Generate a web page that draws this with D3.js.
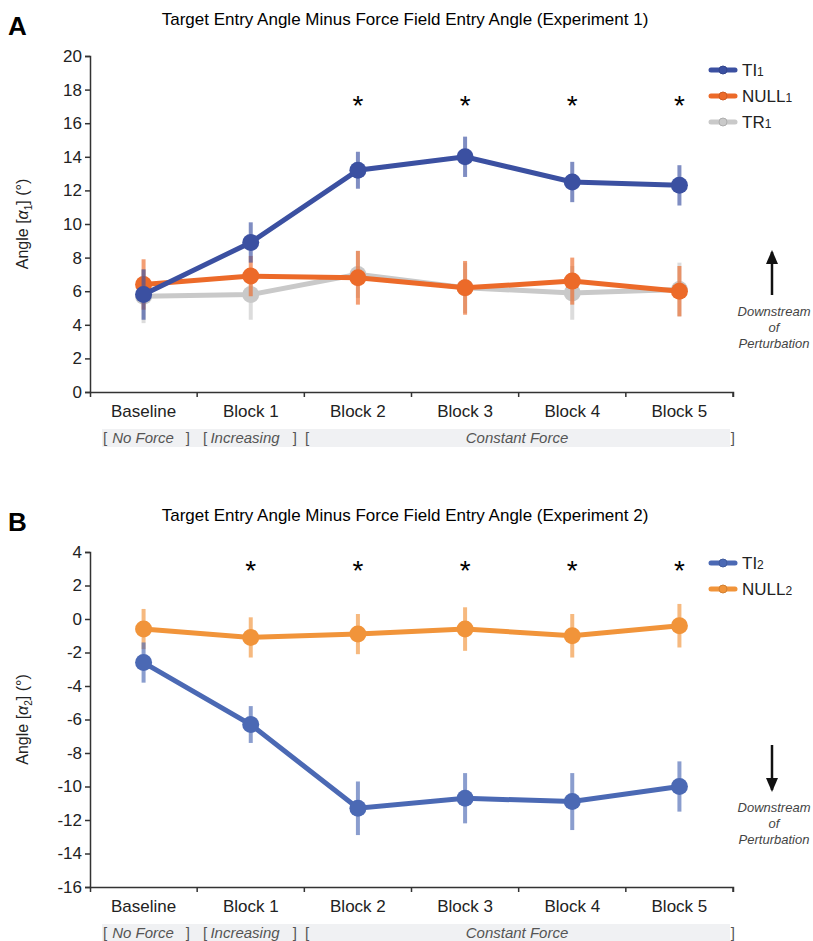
<!DOCTYPE html>
<html><head><meta charset="utf-8">
<script src="https://cdn.jsdelivr.net/npm/d3@7"></script>
<style>body{margin:0;background:#fff;font-family:"Liberation Sans",Arial,sans-serif}</style>
</head><body>
<script>
var categories = ["Baseline","Block 1","Block 2","Block 3","Block 4","Block 5"];
var tiA = [5.8, 8.9, 13.2, 14.0, 12.5, 12.3];
var tiAErr = [1.5, 1.2, 1.1, 1.2, 1.2, 1.2];
var nullA = [6.4, 6.9, 6.8, 6.2, 6.6, 6.0];
var nullAErr = [1.5, 1.2, 1.6, 1.6, 1.4, 1.5];
var trA = [5.7, 5.8, 7.0, 6.2, 5.9, 6.1];
var trAErr = [1.6, 1.5, 1.4, 1.5, 1.6, 1.6];
var tiB = [-2.6, -6.3, -11.3, -10.7, -10.9, -10.0];
var tiBErr = [1.2, 1.1, 1.6, 1.5, 1.7, 1.5];
var nullB = [-0.6, -1.1, -0.9, -0.6, -1.0, -0.4];
var nullBErr = [1.2, 1.2, 1.2, 1.3, 1.3, 1.3];
var starsA = [2,3,4,5], starsB = [1,2,3,4,5];

var svg = d3.select("body").append("svg").attr("width",813).attr("height",941)
  .attr("font-family","'Liberation Sans',Arial,sans-serif");
var x = d3.scaleBand().domain(categories).range([90,733]);

function panel(opt){
  var y = d3.scaleLinear().domain(opt.domain).range(opt.range);
  var g = svg.append("g");
  g.append("text").attr("x",405).attr("y",opt.titleY).attr("text-anchor","middle")
    .attr("font-size",17).text(opt.title);
  g.append("text").attr("x",8).attr("y",opt.titleY+10).attr("font-size",26).attr("font-weight","bold").text(opt.letter);
  var ya = g.append("g").attr("transform","translate(90,0)")
    .call(d3.axisLeft(y).tickValues(d3.range(opt.domain[0],opt.domain[1]+1,2)).tickSize(5).tickFormat(function(d){return String(d);}));
  var xa = g.append("g").attr("transform","translate(0,"+opt.range[0]+")")
    .call(d3.axisBottom(x).tickSize(5).tickFormat(""));
  xa.selectAll(".tick").attr("transform",function(d){return "translate("+(x(d)+x.bandwidth())+",0)";});
  [ya,xa].forEach(function(a){a.selectAll("path,line").attr("stroke","#333").attr("stroke-width",1.5);
    a.selectAll("text").attr("font-size",17).attr("fill","#222").attr("font-family","'Liberation Sans',Arial");});
  categories.forEach(function(c){
    g.append("text").attr("x",x(c)+x.bandwidth()/2).attr("y",opt.range[0]+25).attr("text-anchor","middle")
      .attr("font-size",17).attr("fill","#222").text(c);
  });
  var by = opt.range[0]+37;
  g.append("rect").attr("x",102).attr("y",by).attr("width",628).attr("height",18).attr("fill","#f0f1f3");
  var lab = [[103,"start","[ "],[143,"middle","No Force",1],[190,"end"," ]"],[203,"start","[ "],[245,"middle","Increasing",1],[297,"end"," ]"],[305,"start","["],[517,"middle","Constant Force",1],[735,"end","]"]];
  lab.forEach(function(l){
    g.append("text").attr("x",l[0]).attr("y",by+14).attr("text-anchor",l[1]).attr("font-size",15)
      .attr("fill","#555").attr("font-style",l[3]?"italic":"normal").text(l[2]);
  });
  g.append("text").attr("transform","translate(28,"+((opt.range[0]+opt.range[1])/2)+") rotate(-90)")
    .attr("text-anchor","middle").attr("font-size",16).attr("fill","#222")
    .html('Angle [<tspan font-style="italic">α</tspan><tspan font-size="10" dy="4">'+opt.sub+'</tspan><tspan dy="-4">] (°)</tspan>');
  var cx = function(i){return x(categories[i])+x.bandwidth()/2;};
  opt.series.slice().reverse().forEach(function(s){
    var pts = s.v.map(function(v,i){return [cx(i),y(v)];});
    g.selectAll(null).data(s.v).enter().append("line")
      .attr("x1",function(d,i){return cx(i);}).attr("x2",function(d,i){return cx(i);})
      .attr("y1",function(d,i){return y(d-s.e[i]);}).attr("y2",function(d,i){return y(d+s.e[i]);})
      .attr("stroke",s.c).attr("stroke-opacity",0.65).attr("stroke-width",4);
    g.append("path").attr("d",d3.line()(pts)).attr("fill","none").attr("stroke",s.c).attr("stroke-width",5);
    g.selectAll(null).data(s.v).enter().append("circle")
      .attr("cx",function(d,i){return cx(i);}).attr("cy",function(d){return y(d);}).attr("r",8.5).attr("fill",s.c);
  });
  opt.stars.forEach(function(i){
    g.append("text").attr("x",cx(i)).attr("y",opt.starY).attr("text-anchor","middle").attr("font-size",28).text("*");
  });
  opt.series.forEach(function(s,k){
    var ly = opt.legY + k*26;
    g.append("line").attr("x1",711).attr("x2",735).attr("y1",ly).attr("y2",ly).attr("stroke",s.c)
      .attr("stroke-width",5).attr("stroke-linecap","round");
    g.append("circle").attr("cx",723).attr("cy",ly).attr("r",4).attr("fill",s.c).attr("stroke",d3.color(s.c).darker(0.4));
    g.append("text").attr("x",742).attr("y",ly+6).attr("font-size",17).attr("fill","#222")
      .html(s.n+'<tspan font-size="12">'+opt.sub+'</tspan>');
  });
  var ax = 772;
  var a1 = opt.arrow[0], a2 = opt.arrow[1];
  g.append("line").attr("x1",ax).attr("x2",ax).attr("y1",a1).attr("y2",a2).attr("stroke","#111").attr("stroke-width",2.5);
  var dir = a2<a1 ? -1 : 1;
  g.append("path").attr("d","M"+(ax-6)+","+(a2-dir*12)+"L"+ax+","+(a2+dir*2)+"L"+(ax+6)+","+(a2-dir*12)+"Z").attr("fill","#111");
  ["Downstream","of","Perturbation"].forEach(function(t,i){
    g.append("text").attr("x",ax+2).attr("y",opt.textY+i*16).attr("text-anchor","middle").attr("font-size",13)
      .attr("font-style","italic").attr("fill","#444").text(t);
  });
}

panel({letter:"A",title:"Target Entry Angle Minus Force Field Entry Angle (Experiment 1)",titleY:25,sub:"1",
  domain:[0,20],range:[392,56],starY:115,legY:70,arrow:[295,252],textY:316,stars:starsA,
  series:[{n:"TI",v:tiA,e:tiAErr,c:"#3b50a1"},{n:"NULL",v:nullA,e:nullAErr,c:"#ec6a29"},{n:"TR",v:trA,e:trAErr,c:"#c9c9c9"}]});
panel({letter:"B",title:"Target Entry Angle Minus Force Field Entry Angle (Experiment 2)",titleY:521,sub:"2",
  domain:[-16,4],range:[887,552],starY:580,legY:563,arrow:[745,790],textY:812,stars:starsB,
  series:[{n:"TI",v:tiB,e:tiBErr,c:"#4b69b4"},{n:"NULL",v:nullB,e:nullBErr,c:"#f1943a"}]});
</script>
</body></html>
